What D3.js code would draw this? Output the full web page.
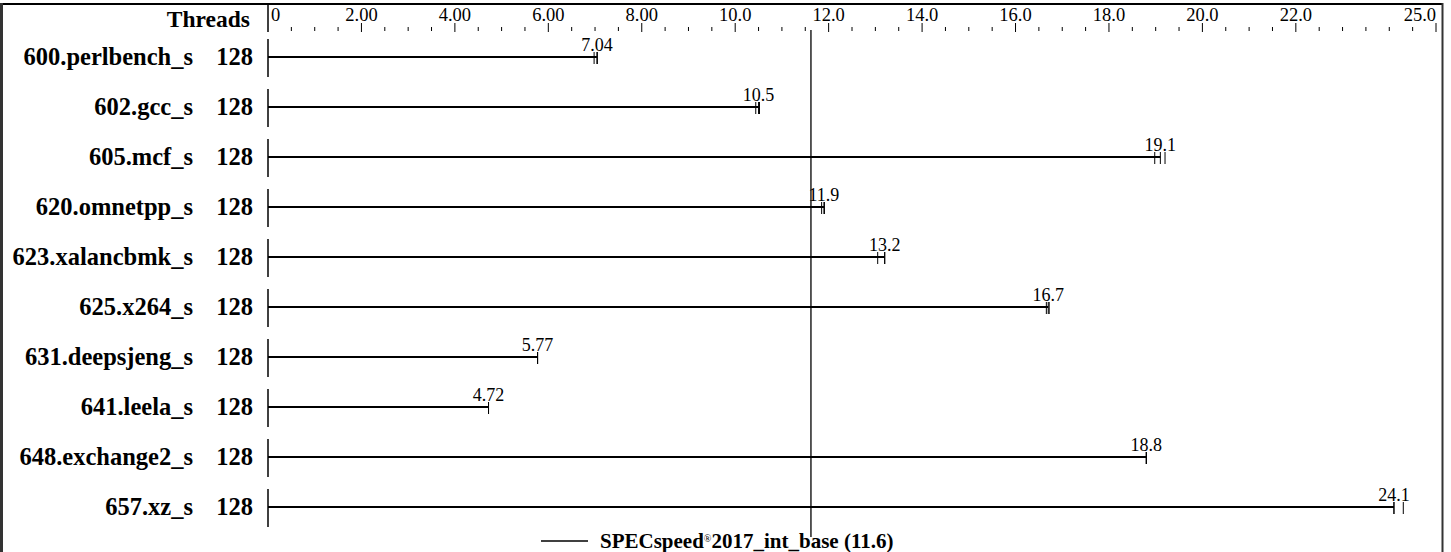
<!DOCTYPE html>
<html>
<head>
<meta charset="utf-8">
<script src="https://cdn.jsdelivr.net/npm/d3@7.9.0/dist/d3.min.js"></script>
<style>
  body { margin: 0; background: #fff; }
  svg { display: block; font-family: "Liberation Serif", "Times New Roman", serif; }
</style>
</head>
<body>
<svg id="chart" width="1451" height="552"></svg>
<script>
// benchmark names, threads, median scores and individual run results
const benchmarks = ['600.perlbench_s', '602.gcc_s', '605.mcf_s', '620.omnetpp_s', '623.xalancbmk_s',
  '625.x264_s', '631.deepsjeng_s', '641.leela_s', '648.exchange2_s', '657.xz_s'];
const threads = [128, 128, 128, 128, 128, 128, 128, 128, 128, 128];
const medians = [7.04, 10.5, 19.1, 11.9, 13.2, 16.7, 5.77, 4.72, 18.8, 24.1];
const runs = [
  [6.98, 7.04, 7.05],
  [10.44, 10.5, 10.52],
  [18.98, 19.1, 19.2],
  [11.85, 11.9, 11.91],
  [13.05, 13.2, 13.2],
  [16.66, 16.7, 16.72],
  [5.77, 5.77, 5.77],
  [4.72, 4.72, 4.72],
  [18.8, 18.8, 18.8],
  [24.1, 24.1, 24.3]
];
const majorTicks = [0, 2, 4, 6, 8, 10, 12, 14, 16, 18, 20, 22, 25];
const majorLabels = ['0', '2.00', '4.00', '6.00', '8.00', '10.0', '12.0', '14.0', '16.0', '18.0', '20.0', '22.0', '25.0'];
const geoMean = 11.6;
const legendLabel = 'SPECspeed';
const legendRest = '2017_int_base (11.6)';

const svg = d3.select('#chart');
const x = d3.scaleLinear().domain([0, 25]).range([268, 1436]);
const y = d3.scaleBand().domain(benchmarks).range([32, 532]);
const cy = d => y(d) + y.bandwidth() / 2;

// frame
svg.append('line').attr('x1', 0).attr('x2', 1443).attr('y1', 4).attr('y2', 4)
  .attr('stroke', '#000').attr('stroke-width', 2);
svg.append('line').attr('x1', 1.5).attr('x2', 1.5).attr('y1', 3).attr('y2', 552)
  .attr('stroke', '#333').attr('stroke-width', 3);
svg.append('line').attr('x1', 1442.5).attr('x2', 1442.5).attr('y1', 3).attr('y2', 552)
  .attr('stroke', '#333').attr('stroke-width', 2);

// header
svg.append('text').attr('x', 250).attr('y', 27).attr('text-anchor', 'end')
  .attr('font-weight', 'bold').attr('font-size', 23.5).text('Threads');
svg.append('line').attr('x1', x(0)).attr('x2', x(0)).attr('y1', 4).attr('y2', 32)
  .attr('stroke', '#000').attr('stroke-width', 1.5);

// minor ticks every 0.5
const minor = d3.range(0.5, 25, 0.5).filter(v => !majorTicks.includes(v));
svg.selectAll('.minor').data(minor).join('line')
  .attr('x1', d => x(d)).attr('x2', d => x(d)).attr('y1', 27).attr('y2', 31)
  .attr('stroke', '#000').attr('stroke-width', 1);
svg.selectAll('.major').data(majorTicks.slice(1)).join('line')
  .attr('x1', d => x(d)).attr('x2', d => x(d)).attr('y1', 23).attr('y2', 32)
  .attr('stroke', '#000').attr('stroke-width', 1);
svg.selectAll('.tlabel').data(majorTicks).join('text')
  .attr('x', (d, i) => i === 0 ? x(d) + 3 : x(d))
  .attr('y', 21)
  .attr('text-anchor', (d, i) => i === 0 ? 'start' : (i === majorTicks.length - 1 ? 'end' : 'middle'))
  .attr('font-size', 18.5)
  .text((d, i) => majorLabels[i]);

// rows
benchmarks.forEach((b, i) => {
  const c = cy(b);
  svg.append('text').attr('x', 193).attr('y', c + 8).attr('text-anchor', 'end')
    .attr('font-weight', 'bold').attr('font-size', 24.5).text(b);
  svg.append('text').attr('x', 253).attr('y', c + 8).attr('text-anchor', 'end')
    .attr('font-weight', 'bold').attr('font-size', 24.5).text(threads[i]);
  svg.append('line').attr('x1', x(0)).attr('x2', x(0)).attr('y1', c - 18).attr('y2', c + 20)
    .attr('stroke', '#000').attr('stroke-width', 1.5);
  svg.append('line').attr('x1', x(0)).attr('x2', x(medians[i])).attr('y1', c).attr('y2', c)
    .attr('stroke', '#000').attr('stroke-width', 2);
  svg.selectAll(null).data(runs[i]).join('line')
    .attr('x1', d => x(d)).attr('x2', d => x(d)).attr('y1', c - 5).attr('y2', c + 7)
    .attr('stroke', '#000').attr('stroke-width', 1);
  svg.append('text').attr('x', x(medians[i])).attr('y', c - 6).attr('text-anchor', 'middle')
    .attr('font-size', 18).text(medians[i]);
});

// geometric mean line
svg.append('line').attr('x1', x(geoMean) + 1).attr('x2', x(geoMean) + 1).attr('y1', 30).attr('y2', 537)
  .attr('stroke', '#000').attr('stroke-width', 1.3);

// legend
svg.append('line').attr('x1', 541).attr('x2', 588).attr('y1', 541).attr('y2', 541)
  .attr('stroke', '#000').attr('stroke-width', 1.5);
const lt = svg.append('text').attr('x', 600).attr('y', 548).attr('font-weight', 'bold').attr('font-size', 21);
lt.append('tspan').text(legendLabel);
lt.append('tspan').attr('font-size', 10).attr('dy', -6).attr('font-weight', 'normal').text('®');
lt.append('tspan').attr('dy', 6).text(legendRest);
</script>
</body>
</html>
